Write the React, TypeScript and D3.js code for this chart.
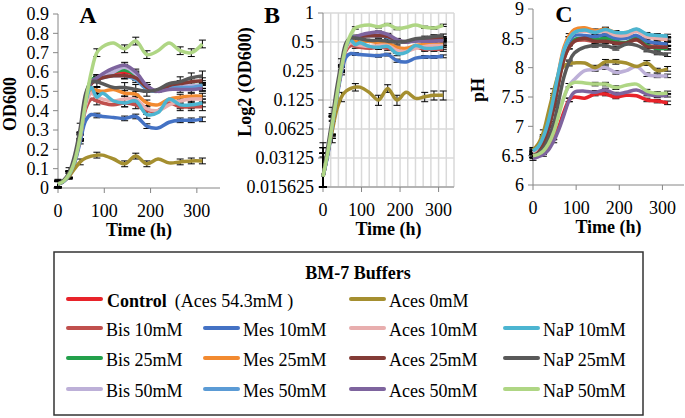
import React from 'react';
import * as d3 from 'd3';

const FONT = '"Liberation Serif", "Times New Roman", Times, serif';

// sampling times (h)
const times = [0, 12, 24, 36, 48, 60, 72, 84, 96, 120, 144, 168, 192, 216, 240, 264, 288, 312];
// time indices that carry a visible error bar
const errIdx = [0, 2, 4, 7, 10, 11, 12, 15, 16, 17];

const seriesNames = [
  'Control', 'Bis 10mM', 'Bis 25mM', 'Bis 50mM',
  'Mes 10mM', 'Mes 25mM', 'Mes 50mM',
  'Aces 0mM', 'Aces 10mM', 'Aces 25mM', 'Aces 50mM',
  'NaP 10mM', 'NaP 25mM', 'NaP 50mM',
];

const seriesColors = [
  '#E8232A', '#C0504D', '#23A04B', '#BDB0D8',
  '#4472C4', '#F28A30', '#5B9BD5',
  '#A58F30', '#E8AEAE', '#833B36', '#7E649E',
  '#4CB5D1', '#595959', '#AFD684',
];

// legend column / row for each series
const legendCol = [0, 0, 0, 0, 1, 1, 1, 2, 2, 2, 2, 3, 3, 3];
const legendRow = [0, 1, 2, 3, 1, 2, 3, 0, 1, 2, 3, 1, 2, 3];

// OD600 per series (same order as seriesNames)
const od600 = [
  [0.02, 0.035, 0.07, 0.14, 0.27, 0.46, 0.55, 0.57, 0.58, 0.59, 0.6, 0.58, 0.52, 0.5, 0.52, 0.52, 0.52, 0.52],
  [0.02, 0.035, 0.07, 0.14, 0.26, 0.41, 0.46, 0.45, 0.44, 0.43, 0.44, 0.43, 0.4, 0.4, 0.44, 0.42, 0.42, 0.42],
  [0.02, 0.035, 0.07, 0.14, 0.27, 0.47, 0.56, 0.57, 0.58, 0.6, 0.61, 0.585, 0.52, 0.5, 0.52, 0.53, 0.53, 0.53],
  [0.02, 0.034, 0.068, 0.14, 0.26, 0.45, 0.54, 0.56, 0.58, 0.6, 0.625, 0.59, 0.52, 0.5, 0.52, 0.53, 0.53, 0.53],
  [0.02, 0.033, 0.065, 0.13, 0.24, 0.35, 0.38, 0.375, 0.37, 0.365, 0.36, 0.37, 0.32, 0.31, 0.34, 0.35, 0.35, 0.355],
  [0.02, 0.035, 0.07, 0.14, 0.26, 0.44, 0.51, 0.505, 0.5, 0.51, 0.49, 0.485, 0.44, 0.43, 0.46, 0.47, 0.475, 0.475],
  [0.02, 0.035, 0.07, 0.14, 0.27, 0.46, 0.55, 0.56, 0.57, 0.58, 0.58, 0.56, 0.51, 0.5, 0.52, 0.52, 0.52, 0.53],
  [0.02, 0.035, 0.06, 0.1, 0.135, 0.155, 0.165, 0.17, 0.17, 0.15, 0.125, 0.165, 0.125, 0.15, 0.13, 0.135, 0.14, 0.14],
  [0.02, 0.035, 0.07, 0.14, 0.26, 0.43, 0.49, 0.47, 0.46, 0.45, 0.46, 0.46, 0.41, 0.4, 0.43, 0.45, 0.46, 0.46],
  [0.02, 0.035, 0.07, 0.14, 0.27, 0.46, 0.54, 0.56, 0.57, 0.58, 0.58, 0.57, 0.52, 0.5, 0.53, 0.54, 0.55, 0.555],
  [0.02, 0.034, 0.068, 0.14, 0.26, 0.45, 0.55, 0.57, 0.59, 0.62, 0.635, 0.6, 0.53, 0.5, 0.51, 0.51, 0.51, 0.515],
  [0.02, 0.035, 0.07, 0.14, 0.27, 0.45, 0.52, 0.47, 0.49, 0.45, 0.44, 0.45, 0.38, 0.39, 0.46, 0.43, 0.43, 0.44],
  [0.02, 0.04, 0.08, 0.17, 0.31, 0.49, 0.55, 0.55, 0.54, 0.52, 0.52, 0.51, 0.5, 0.51, 0.54, 0.55, 0.57, 0.58],
  [0.02, 0.035, 0.07, 0.14, 0.27, 0.45, 0.6, 0.7, 0.73, 0.75, 0.72, 0.76, 0.69, 0.71, 0.75, 0.71, 0.7, 0.745],
];

// pH per series
const ph = [
  [6.48, 6.5, 6.55, 6.65, 6.8, 7.0, 7.25, 7.45, 7.5, 7.48, 7.55, 7.55, 7.5, 7.53, 7.52, 7.45, 7.43, 7.4],
  [6.55, 6.6, 6.75, 7.0, 7.35, 7.8, 8.15, 8.35, 8.45, 8.47, 8.45, 8.47, 8.42, 8.42, 8.47, 8.38, 8.36, 8.35],
  [6.55, 6.6, 6.75, 7.0, 7.35, 7.8, 8.2, 8.4, 8.48, 8.5, 8.48, 8.5, 8.45, 8.43, 8.5, 8.38, 8.33, 8.33],
  [6.5, 6.52, 6.6, 6.75, 6.95, 7.25, 7.5, 7.7, 7.8, 7.95, 7.97, 8.0, 7.92, 7.95, 8.02, 7.88, 7.86, 7.86],
  [6.55, 6.62, 6.8, 7.05, 7.45, 7.9, 8.25, 8.45, 8.55, 8.55, 8.53, 8.56, 8.5, 8.5, 8.55, 8.45, 8.42, 8.4],
  [6.6, 6.65, 6.8, 7.05, 7.45, 7.95, 8.35, 8.55, 8.65, 8.68, 8.63, 8.66, 8.6, 8.6, 8.65, 8.55, 8.5, 8.48],
  [6.58, 6.63, 6.78, 7.05, 7.45, 7.9, 8.3, 8.5, 8.6, 8.63, 8.6, 8.63, 8.58, 8.58, 8.63, 8.55, 8.52, 8.5],
  [6.6, 6.7, 6.9, 7.25, 7.6, 7.9, 8.03, 8.07, 8.08, 8.08, 8.0, 8.1, 8.1, 8.08, 8.02, 8.08, 7.95, 7.98],
  [6.55, 6.62, 6.8, 7.05, 7.45, 7.9, 8.3, 8.5, 8.6, 8.62, 8.6, 8.62, 8.55, 8.55, 8.62, 8.52, 8.5, 8.48],
  [6.5, 6.55, 6.7, 6.95, 7.3, 7.75, 8.15, 8.35, 8.45, 8.5, 8.45, 8.45, 8.42, 8.42, 8.48, 8.36, 8.35, 8.35],
  [6.45, 6.48, 6.52, 6.6, 6.75, 6.95, 7.2, 7.45, 7.58, 7.6, 7.58, 7.62, 7.55, 7.58, 7.62, 7.55, 7.52, 7.53],
  [6.58, 6.65, 6.82, 7.1, 7.5, 7.95, 8.3, 8.5, 8.6, 8.64, 8.6, 8.65, 8.6, 8.6, 8.66, 8.57, 8.55, 8.54],
  [6.5, 6.53, 6.62, 6.8, 7.05, 7.45, 7.85, 8.1, 8.25, 8.35, 8.38, 8.38, 8.33, 8.4, 8.38, 8.3, 8.25, 8.22],
  [6.5, 6.52, 6.58, 6.7, 6.9, 7.2, 7.5, 7.7, 7.75, 7.74, 7.72, 7.72, 7.66, 7.7, 7.72, 7.6, 7.56, 7.57],
];

// standard deviations, one per series
const odErr = [0.015, 0.02, 0.015, 0.015, 0.012, 0.015, 0.015, 0.015, 0.015, 0.015, 0.015, 0.02, 0.025, 0.02];
const phErr = [0.03, 0.03, 0.03, 0.03, 0.03, 0.03, 0.03, 0.04, 0.03, 0.03, 0.03, 0.03, 0.03, 0.03];

const odTicks = [0, 0.1, 0.2, 0.3, 0.4, 0.5, 0.6, 0.7, 0.8, 0.9];
const log2Ticks = [0.015625, 0.03125, 0.0625, 0.125, 0.25, 0.5, 1];
const phTicks = [6, 6.5, 7, 7.5, 8, 8.5, 9];
const timeTicks = [0, 100, 200, 300];

const AXIS = '#868686';
const GRID = '#D9D9D9';

interface PanelProps {
  x: d3.ScaleLinear<number, number>;
  y: any;
  yTicks: number[];
  data: number[][];
  err: number[];
  grid?: number[];
  letter: string;
  letterX: number;
  letterY: number;
  yTitle: string;
  yTitleX: number;
  yTitleY: number;
}

const Panel = ({ x, y, yTicks, data, err, grid, letter, letterX, letterY, yTitle, yTitleX, yTitleY }: PanelProps) => {
  const [xl, xr] = x.range();
  const [yb, yt] = y.range();
  const line = d3
    .line<number>()
    .x((_, i) => x(times[i]))
    .y((v) => y(v))
    .curve(d3.curveCatmullRom.alpha(0.5));

  return (
    <g>
      {grid &&
        grid.map((t) => (
          <line key={'gx' + t} x1={x(t)} x2={x(t)} y1={yb} y2={yt} stroke={GRID} strokeWidth={1.5} />
        ))}
      {grid &&
        yTicks.map((v) => (
          <line key={'gy' + v} x1={xl} x2={xr} y1={y(v)} y2={y(v)} stroke={GRID} strokeWidth={1.5} />
        ))}
      <line x1={xl} x2={xl} y1={yb} y2={yt} stroke={AXIS} />
      <line x1={xl} x2={xr} y1={yb} y2={yb} stroke={AXIS} />
      {yTicks.map((v) => (
        <g key={'yt' + v}>
          <line x1={xl - 5} x2={xl} y1={y(v)} y2={y(v)} stroke={AXIS} />
          <text x={xl - 9} y={y(v)} dy="0.35em" textAnchor="end" fontSize={18}>
            {String(v)}
          </text>
        </g>
      ))}
      {timeTicks.map((t) => (
        <g key={'xt' + t}>
          <line x1={x(t)} x2={x(t)} y1={yb} y2={yb + 5} stroke={AXIS} />
          <text x={x(t)} y={yb + 23} dy="0.35em" textAnchor="middle" fontSize={18}>
            {t}
          </text>
        </g>
      ))}
      {data.map((s, si) =>
        errIdx.map((i) => {
          const v = s[i];
          const lo = Math.max(v - err[si], y.domain()[0]);
          const hi = v + err[si];
          const cx = x(times[i]);
          return (
            <g key={`e${si}-${i}`} stroke="#000" strokeWidth={1}>
              <line x1={cx} x2={cx} y1={y(lo)} y2={y(hi)} />
              <line x1={cx - 3.5} x2={cx + 3.5} y1={y(lo)} y2={y(lo)} />
              <line x1={cx - 3.5} x2={cx + 3.5} y1={y(hi)} y2={y(hi)} />
            </g>
          );
        })
      )}
      {data.map((s, si) => (
        <path key={'l' + si} d={line(s) || ''} fill="none" stroke={seriesColors[si]} strokeWidth={3.5} />
      ))}
      <text x={letterX} y={letterY} textAnchor="middle" fontSize={24} fontWeight="bold">
        {letter}
      </text>
      <text
        transform={`translate(${yTitleX},${yTitleY}) rotate(-90)`}
        dy="0.35em"
        textAnchor="middle"
        fontSize={18}
        fontWeight="bold"
      >
        {yTitle}
      </text>
      <text x={(xl + xr) / 2} y={yb + 42} dy="0.35em" textAnchor="middle" fontSize={18} fontWeight="bold">
        Time (h)
      </text>
    </g>
  );
};

const App = () => {
  const xA = d3.scaleLinear().domain([0, 350]).range([58, 220]);
  const yA = d3.scaleLinear().domain([0, 0.9]).range([188, 14]);
  const xB = d3.scaleLinear().domain([0, 340]).range([323, 454]);
  const yB = d3.scaleLog().base(2).domain([0.015625, 1]).range([187, 13]);
  const xC = d3.scaleLinear().domain([0, 350]).range([533, 684]);
  const yC = d3.scaleLinear().domain([6, 9]).range([185, 9]);

  const colX = [68, 205, 351, 505];
  const rowY = [299, 328, 358, 389];

  return (
    <svg
      width={685}
      height={418}
      style={{ position: 'absolute', left: 0, top: 0, background: '#fff' }}
      fontFamily={FONT}
    >
      <Panel x={xA} y={yA} yTicks={odTicks} data={od600} err={odErr}
        letter="A" letterX={88} letterY={23} yTitle="OD600" yTitleX={10} yTitleY={104} />
      <Panel x={xB} y={yB} yTicks={log2Ticks} data={od600} err={odErr} grid={d3.range(20, 341, 20)}
        letter="B" letterX={272} letterY={23} yTitle="Log2 (OD600)" yTitleX={245} yTitleY={82} />
      <Panel x={xC} y={yC} yTicks={phTicks} data={ph} err={phErr}
        letter="C" letterX={564} letterY={22} yTitle="pH" yTitleX={478} yTitleY={90} />

      <rect x={54} y={252} width={589} height={163} fill="none" stroke="#333" strokeWidth={1.5} />
      <text x={358} y={273} dy="0.35em" textAnchor="middle" fontSize={18} fontWeight="bold">
        BM-7 Buffers
      </text>
      {seriesNames.map((name, i) => {
        const lx = colX[legendCol[i]];
        const ly = rowY[legendRow[i]];
        return (
          <g key={'lg' + i}>
            <line x1={lx} x2={lx + 33} y1={ly} y2={ly} stroke={seriesColors[i]} strokeWidth={4} strokeLinecap="round" />
            {i === 0 ? (
              <text x={lx + 39} y={ly + 2} dy="0.35em" fontSize={18}>
                <tspan fontWeight="bold">Control</tspan>
                <tspan dx={8}>(Aces 54.3mM )</tspan>
              </text>
            ) : (
              <text x={lx + 38} y={ly + 2} dy="0.35em" fontSize={18}>
                {name}
              </text>
            )}
          </g>
        );
      })}
    </svg>
  );
};

export default App;
